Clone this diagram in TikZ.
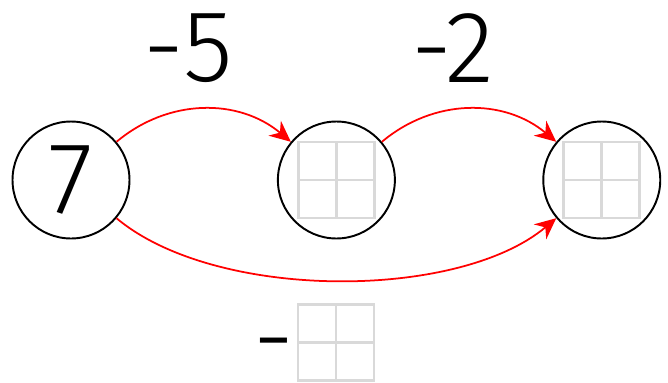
\documentclass[tikz,border=0pt]{standalone}
\usepackage{fontspec}
\setmainfont{Fira Sans}[UprightFont=* Light]
\usetikzlibrary{arrows.meta, positioning}
\tikzset{
    >=Stealth,
    % Shapes
    numcircle/.style={circle, draw=black, line width=1.1pt, minimum size=2.34cm, inner sep=0pt},
    gridbox/.style={rectangle, draw=gray!30, line width=1.5pt, minimum size=1.52cm, inner sep=0pt,
                    path picture={
                      \draw[gray!30, line width=1.5pt] (path picture bounding box.north) -- (path picture bounding box.south);
                      \draw[gray!30, line width=1.5pt] (path picture bounding box.west) -- (path picture bounding box.east);
                    }},
    % Flow & Labels
    flow/.style={-{Stealth[length=12pt, width=11pt]}, line width=1pt, red},
    bignum/.style={font=\fontsize{58}{60}\selectfont, inner sep=0pt}
}
\begin{document}
\begin{tikzpicture}[x=0.02cm, y=-0.02cm, node distance=2.93cm]
\useasboundingbox (0,0) rectangle (668,382);

\node[numcircle] (start) at (71,180) {};
\node[bignum] (seven) at (start) {7};
\node[numcircle, right=of start] (mid) {};
\node[gridbox] (midbox) at (mid) {};
\node[numcircle, right=of mid] (end) {};
\node[gridbox] (endbox) at (end) {};

\draw[flow] (start) to[bend left=40] (mid);
\draw[flow] (mid) to[bend left=40] (end);
\draw[flow] (start) to[out=-40, in=220, looseness=0.75] (end);

\node[bignum] (minusfive) at (188,48) {-5};
\node[bignum] (minustwo) at (453,48) {-2};

\node[gridbox] (sumbox) at (336,342.5) {};
\node[bignum, left=1pt of sumbox, yshift=-0.26cm] (minus) {-};

\end{tikzpicture}
\end{document}
